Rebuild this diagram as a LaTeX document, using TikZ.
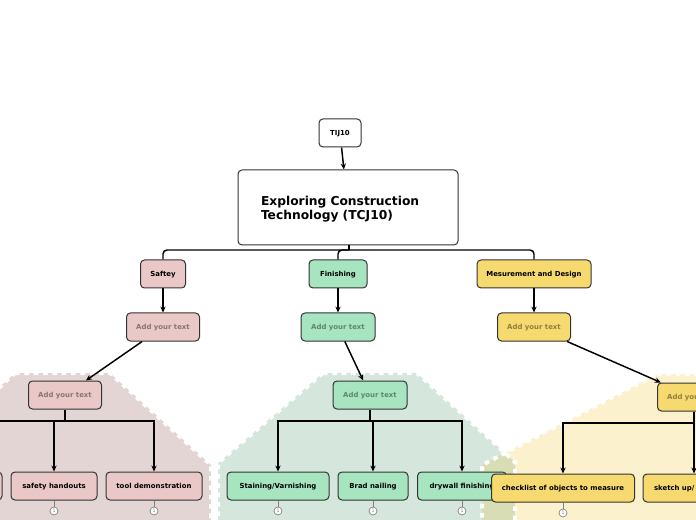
\documentclass[tikz,border=0pt]{standalone}
\usepackage{fontspec}
\setmainfont{DejaVu Sans}
\usetikzlibrary{arrows.meta}
\definecolor{pinkbox}{HTML}{EBC8C8}
\definecolor{greenbox}{HTML}{A6E5BF}
\definecolor{yellowbox}{HTML}{F6DA70}
\definecolor{pinkbg}{HTML}{E4D5D5}
\definecolor{greenbg}{HTML}{D5E6DC}
\definecolor{yellowbg}{HTML}{FBF2CD}
\definecolor{olivebg}{HTML}{D9DDB6}
\definecolor{boxline}{HTML}{333333}
\tikzset{
  box/.style={draw=boxline, line width=0.75pt, rounded corners=3pt, minimum height=21pt,
    inner sep=0pt, text height=3.8pt, text depth=0pt, font=\bfseries\fontsize{5.2}{6.2}\selectfont, text=black},
  ph/.style={text opacity=0.42},
  conn/.style={line width=1.1pt, draw=black},
  arr/.style={conn, -{Stealth[length=4.5pt,width=4pt]}},
  badge/.style={circle, draw=gray, fill=white, line width=0.5pt, minimum size=6pt,
    inner sep=0pt, font=\fontsize{3.5}{4}\selectfont, text=gray},
  badgeline/.style={draw=gray, line width=0.6pt},
  region/.style={draw=white, line width=3pt, dash pattern=on 3.5pt off 3.5pt},
}
\begin{document}
\begin{tikzpicture}[x=0.75pt,y=-0.75pt]
\useasboundingbox (0,0) rectangle (696,520);
\clip (0,0) rectangle (696,520);
% background regions
\fill[pinkbg] (15,373) -- (110,373) -- (211,465) -- (211,540) -- (-80,540) -- (-80,460) -- cycle;
\fill[greenbg] (323,373) -- (417,373) -- (515,462) -- (515,540) -- (218,540) -- (218,463) -- cycle;
\fill[yellowbg] (657,374) -- (760,374) -- (760,540) -- (482,540) -- (482,465) -- cycle;
\begin{scope}
  \clip (323,373) -- (417,373) -- (515,462) -- (515,540) -- (218,540) -- (218,463) -- cycle;
  \fill[olivebg] (657,374) -- (760,374) -- (760,540) -- (482,540) -- (482,465) -- cycle;
\end{scope}
\draw[region] (15,373) -- (110,373) -- (211,465) -- (211,540) -- (-80,540) -- (-80,460) -- cycle;
\draw[region] (323,373) -- (417,373) -- (515,462) -- (515,540) -- (218,540) -- (218,463) -- cycle;
\draw[region] (657,374) -- (760,374) -- (760,540) -- (482,540) -- (482,465) -- cycle;

% top
\node[box, fill=white, minimum width=31.5pt] (tij) at (340,133) {TIJ10};
\node[box, fill=white, minimum width=165pt, minimum height=56.25pt, align=left, text width=130.5pt,
  text height=, text depth=, font=\bfseries\fontsize{9.2}{10.5}\selectfont] (main) at (348,207.5)
  {\rule{0pt}{10pt}Exploring Construction\\Technology (TCJ10)};
\draw[arr] (tij) -- (main);

% level 1
\node[box, fill=pinkbox, minimum width=33.75pt] (saf) at (163,274) {Saftey};
\node[box, fill=greenbox, minimum width=43.5pt] (fin) at (338,274) {Finishing};
\node[box, fill=yellowbox, minimum width=85.5pt] (mes) at (534,274) {Mesurement and Design};
\coordinate (mj) at (349,250);
\draw[conn] (main.south -| mj) -- (mj);
\draw[conn, rounded corners=3pt] (mj) -| (saf.north);
\draw[conn, rounded corners=3pt] (mj) -| (fin.north);
\draw[conn, rounded corners=3pt] (mj) -| (mes.north);

% level 2
\node[box, ph, fill=pinkbox, minimum width=54.75pt] (saf2) at (163,327) {Add your text};
\node[box, ph, fill=greenbox, minimum width=55.5pt] (fin2) at (338,327) {Add your text};
\node[box, ph, fill=yellowbox, minimum width=54.75pt] (mes2) at (534,327) {Add your text};
\draw[arr] (saf) -- (saf2);
\draw[arr] (fin) -- (fin2);
\draw[arr] (mes) -- (mes2);

% level 3
\node[box, ph, fill=pinkbox, minimum width=54.75pt] (saf3) at (65,395) {Add your text};
\node[box, ph, fill=greenbox, minimum width=55.5pt] (fin3) at (370,395) {Add your text};
\node[box, ph, fill=yellowbox, minimum width=54.75pt] (mes3) at (694,397) {Add your text};
\draw[arr] (saf2) -- (saf3);
\draw[arr] (fin2) -- (fin3);
\draw[arr] (mes2) -- (mes3);

% level 4 - Saftey
\node[box, fill=pinkbox, minimum width=61.5pt] (safx) at (-39,486) {};
\node[box, fill=pinkbox, minimum width=64.5pt] (sh) at (54,486) {safety handouts};
\node[box, fill=pinkbox, minimum width=72pt] (td) at (154,486) {tool demonstration};
\coordinate (sb) at (65,421);
\draw[conn] (saf3.south) -- (sb);
\draw[arr] (sb) -| (safx.north);
\draw[arr] (sb) -| (sh.north);
\draw[arr] (sb) -| (td.north);

% level 4 - Finishing
\node[box, fill=greenbox, minimum width=76.5pt] (st) at (278,486) {Staining/Varnishing};
\node[box, fill=greenbox, minimum width=52.5pt] (bn) at (373,486) {Brad nailing};
\node[box, fill=greenbox, minimum width=66.75pt] (dw) at (462,486) {drywall finishing};
\coordinate (fb) at (370,421);
\draw[conn] (fin3.south) -- (fb);
\draw[arr] (fb) -| (st.north);
\draw[arr] (fb) -| (bn.north);
\draw[arr] (fb) -| (dw.north);

% level 4 - Mesurement
\node[box, fill=yellowbox, minimum width=107.25pt] (ck) at (563,488) {checklist of objects to measure};
\node[box, fill=yellowbox, minimum width=76.5pt, text width=60pt, align=left] (sk) at (694,488) {sketch up/};
\coordinate (mb) at (694,423);
\draw[conn] (mes3.south) -- (mb);
\draw[arr] (mb) -| (ck.north);
\draw[arr] (mb) -- (sk.north);

% badges
\foreach \n/\x/\y in {sh/54/511, td/154/511, st/278/511, bn/373/511, dw/462/511, ck/563/513} {
  \node[badge] (b\n) at (\x,\y) {1};
  \draw[badgeline] (\n.south) -- (b\n);
}
\end{tikzpicture}
\end{document}
